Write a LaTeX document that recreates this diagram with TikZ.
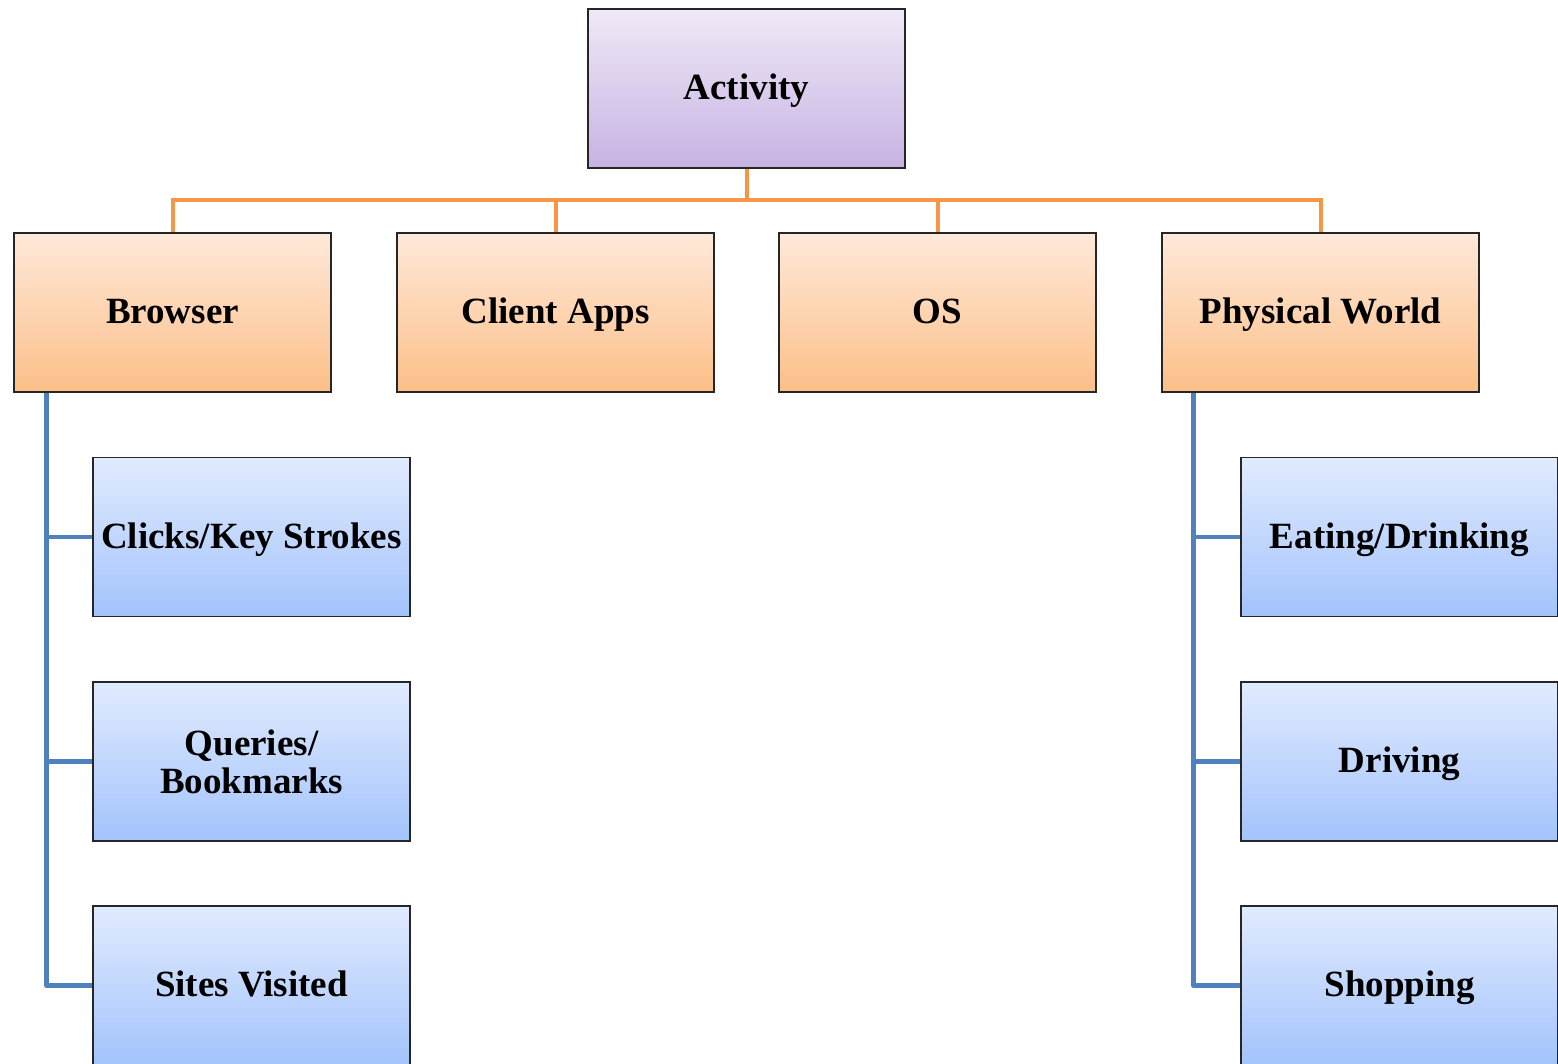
\documentclass[tikz,border=0pt]{standalone}
\usepackage{fontspec}
\setmainfont{Liberation Serif}
\begin{document}
\begin{tikzpicture}[x=1pt,y=-1pt,
  box/.style={draw=black!85, line width=1.1pt, minimum width=317pt, minimum height=159pt,
    inner sep=0pt, align=center, font=\fontsize{37}{38}\selectfont\bfseries,
    text height=26pt, text depth=4pt},
  twoline/.style={text height=, text depth=},
  rootbox/.style={box, top color=purpleTop, bottom color=purpleBot},
  midbox/.style={box, top color=orangeTop, bottom color=orangeBot},
  leafbox/.style={box, top color=blueTop, bottom color=blueBot},
  orangeline/.style={draw=orangeLine, line width=4pt},
  blueline/.style={draw=blueLine, line width=4.5pt, line join=round}]
\definecolor{purpleTop}{HTML}{EFE9F7}
\definecolor{purpleBot}{HTML}{C7B3E3}
\definecolor{orangeTop}{HTML}{FFE9DA}
\definecolor{orangeBot}{HTML}{FCBF88}
\definecolor{blueTop}{HTML}{E1EBFE}
\definecolor{blueBot}{HTML}{A3C3FC}
\definecolor{orangeLine}{HTML}{F79646}
\definecolor{blueLine}{HTML}{4F81BD}

\useasboundingbox (0,0) rectangle (1558,1063);
\clip (0,0) rectangle (1558,1063);

% top level
\node[rootbox] (act) at (746.5,88.5) {Activity};

% second level
\node[midbox] (browser) at (172.5,312.5) {Browser};
\node[midbox] (client)  at (555.5,312.5) {Client Apps};
\node[midbox] (os)      at (937.5,312.5) {OS};
\node[midbox] (phys)    at (1320.5,312.5) {Physical World};

% leaves under Browser
\node[leafbox] (clicks)  at (251.5,537)   {Clicks/Key Strokes};
\node[leafbox, twoline] (queries) at (251.5,761.5) {Queries/\\Bookmarks};
\node[leafbox] (sites)   at (251.5,985.5) {Sites Visited};

% leaves under Physical World
\node[leafbox] (eating)  at (1399.5,537)   {Eating/Drinking};
\node[leafbox] (driving) at (1399.5,761.5) {Driving};
\node[leafbox] (shop)    at (1399.5,985.5) {Shopping};

% orange bus joining the first two levels
\coordinate (bus) at (0,200);
\draw[orangeline] (act.south) -- (act.south |- bus);
\draw[orangeline] (browser.north) -- (browser.north |- bus) -- (phys.north |- bus) -- (phys.north);
\draw[orangeline] (client.north) -- (client.north |- bus);
\draw[orangeline] (os.north) -- (os.north |- bus);

% blue trunks down to the leaves
\coordinate (btrunk) at ([xshift=33]browser.south west);
\draw[blueline] (btrunk) |- (sites.west);
\draw[blueline] (btrunk) |- (clicks.west);
\draw[blueline] (btrunk) |- (queries.west);

\coordinate (ptrunk) at ([xshift=32]phys.south west);
\draw[blueline] (ptrunk) |- (shop.west);
\draw[blueline] (ptrunk) |- (eating.west);
\draw[blueline] (ptrunk) |- (driving.west);
\end{tikzpicture}
\end{document}
